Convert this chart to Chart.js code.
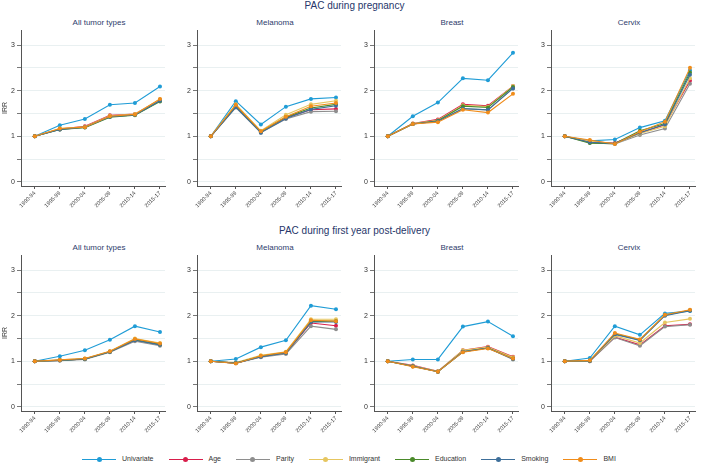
<!DOCTYPE html>
<html>
<head>
<meta charset="utf-8">
<script src="https://cdn.jsdelivr.net/npm/chart.js@4.4.0/dist/chart.umd.min.js"></script>
<style>
  body { margin: 0; background: #fff; font-family: "Liberation Sans", Arial, sans-serif; }
  #wrap { position: relative; width: 709px; height: 465px; overflow: hidden; background: #fff; }
  canvas { position: absolute; }
  .row-title { position: absolute; left: 0; width: 709px; text-align: center; font-size: 10px; line-height: 12px; color: #26366a; }
  .sub-title { position: absolute; width: 140px; margin-left: -70px; text-align: center; font-size: 8px; line-height: 10px; color: #2e3c6c; }
  #legend { position: absolute; left: 82px; top: 454px; height: 10px; display: flex; align-items: center; gap: 15px; font-size: 7px; line-height: 10px; color: #333; }
  .item { display: flex; align-items: center; gap: 6px; }
  .key { position: relative; width: 34px; height: 1px; }
  .key i { position: absolute; left: 14.5px; top: -2px; width: 5px; height: 5px; border-radius: 50%; }
</style>
</head>
<body>
<div id="wrap"></div>
<script>
// Data
const periods = ['1990-94', '1995-99', '2000-04', '2005-09', '2010-14', '2015-17'];
const seriesNames = ['Univariate', 'Age', 'Parity', 'Immigrant', 'Education', 'Smoking', 'BMI'];
const seriesColors = ['#1f9cd6', '#d81e4b', '#8e8e8e', '#e6c660', '#4a8a2a', '#3e6f9a', '#f08c1a'];
const tumorTypes = ['All tumor types', 'Melanoma', 'Breast', 'Cervix'];
const rowTitles = ['PAC during pregnancy', 'PAC during first year post-delivery'];

// rows: Univariate, Age, Parity, Immigrant, Education, Smoking, BMI
const pregAll = [
  [1, 1.24, 1.38, 1.69, 1.73, 2.09],
  [1, 1.16, 1.22, 1.46, 1.49, 1.80],
  [1, 1.15, 1.20, 1.43, 1.47, 1.78],
  [1, 1.17, 1.21, 1.45, 1.49, 1.81],
  [1, 1.15, 1.19, 1.42, 1.46, 1.76],
  [1, 1.15, 1.20, 1.43, 1.47, 1.78],
  [1, 1.17, 1.20, 1.44, 1.48, 1.82]
];
const pregMelanoma = [
  [1, 1.77, 1.26, 1.65, 1.82, 1.85],
  [1, 1.65, 1.10, 1.41, 1.58, 1.60],
  [1, 1.63, 1.08, 1.38, 1.54, 1.55],
  [1, 1.70, 1.12, 1.47, 1.70, 1.78],
  [1, 1.66, 1.10, 1.42, 1.62, 1.70],
  [1, 1.64, 1.08, 1.39, 1.59, 1.67],
  [1, 1.69, 1.11, 1.43, 1.66, 1.73]
];
const pregBreast = [
  [1, 1.44, 1.74, 2.27, 2.23, 2.83],
  [1, 1.28, 1.37, 1.70, 1.67, 2.10],
  [1, 1.27, 1.33, 1.60, 1.58, 2.05],
  [1, 1.28, 1.35, 1.68, 1.65, 2.10],
  [1, 1.27, 1.34, 1.66, 1.63, 2.08],
  [1, 1.27, 1.33, 1.61, 1.58, 2.05],
  [1, 1.27, 1.31, 1.58, 1.52, 1.93]
];
const pregCervix = [
  [1, 0.90, 0.93, 1.19, 1.34, 2.45],
  [1, 0.88, 0.85, 1.07, 1.25, 2.22],
  [1, 0.86, 0.83, 1.03, 1.17, 2.15],
  [1, 0.89, 0.84, 1.06, 1.22, 2.27],
  [1, 0.85, 0.84, 1.12, 1.28, 2.40],
  [1, 0.87, 0.84, 1.08, 1.26, 2.35],
  [1, 0.92, 0.83, 1.10, 1.32, 2.50]
];
const postAll = [
  [1, 1.11, 1.24, 1.47, 1.77, 1.64],
  [1, 1.02, 1.05, 1.21, 1.46, 1.37],
  [1, 1.01, 1.04, 1.20, 1.44, 1.34],
  [1, 1.03, 1.06, 1.22, 1.50, 1.40],
  [1, 1.02, 1.05, 1.21, 1.47, 1.37],
  [1, 1.02, 1.05, 1.21, 1.46, 1.36],
  [1, 1.03, 1.06, 1.22, 1.49, 1.39]
];
const postMelanoma = [
  [1, 1.05, 1.31, 1.46, 2.22, 2.14],
  [1, 0.96, 1.10, 1.18, 1.84, 1.78],
  [1, 0.96, 1.09, 1.16, 1.77, 1.70],
  [1, 0.97, 1.13, 1.21, 1.92, 1.92],
  [1, 0.96, 1.11, 1.19, 1.87, 1.88],
  [1, 0.96, 1.10, 1.18, 1.86, 1.86],
  [1, 0.95, 1.12, 1.20, 1.90, 1.88]
];
const postBreast = [
  [1, 1.04, 1.04, 1.76, 1.87, 1.55],
  [1, 0.91, 0.78, 1.24, 1.32, 1.10],
  [1, 0.89, 0.77, 1.21, 1.29, 1.04],
  [1, 0.90, 0.78, 1.24, 1.31, 1.09],
  [1, 0.89, 0.77, 1.21, 1.29, 1.06],
  [1, 0.89, 0.77, 1.21, 1.29, 1.05],
  [1, 0.88, 0.77, 1.20, 1.28, 1.06]
];
const postCervix = [
  [1, 1.07, 1.77, 1.58, 2.05, 2.10],
  [1, 1.00, 1.53, 1.36, 1.78, 1.81],
  [1, 1.00, 1.52, 1.34, 1.76, 1.80],
  [1, 1.01, 1.56, 1.40, 1.85, 1.93],
  [1, 1.01, 1.60, 1.47, 2.01, 2.12],
  [1, 1.01, 1.59, 1.46, 2.00, 2.11],
  [1, 1.02, 1.62, 1.48, 2.02, 2.13]
];
const yTicks = [0, 0.5, 1, 1.5, 2, 2.5, 3];

const panels = [
  [pregAll, pregMelanoma, pregBreast, pregCervix],
  [postAll, postMelanoma, postBreast, postCervix]
];

// layout
const wrap = document.getElementById('wrap');
const colLeft = [0, 176, 353, 530];
const CW = 167, CH = 205;

function addDiv(cls, text, left, top) {
  const d = document.createElement('div');
  d.className = cls;
  d.textContent = text;
  if (left !== null) d.style.left = left + 'px';
  d.style.top = top + 'px';
  wrap.appendChild(d);
}

function drawPanel(rows, left, top, showYTitle) {
  const canvas = document.createElement('canvas');
  canvas.width = CW;
  canvas.height = CH;
  canvas.style.left = left + 'px';
  canvas.style.top = top + 'px';
  wrap.appendChild(canvas);

  const datasets = rows.map((vals, i) => ({
    label: seriesNames[i],
    data: vals.map((v, k) => ({ x: k, y: v })),
    borderColor: seriesColors[i],
    backgroundColor: seriesColors[i],
    borderWidth: 1.1,
    pointRadius: 2,
    pointBorderWidth: 0,
    pointHoverRadius: 2,
    order: rows.length - i
  }));

  new Chart(canvas, {
    type: 'line',
    data: { datasets: datasets },
    options: {
      responsive: false,
      animation: false,
      events: [],
      layout: { padding: { top: 15, left: 0, right: 0, bottom: 0 } },
      plugins: { legend: { display: false }, title: { display: false }, tooltip: { enabled: false } },
      scales: {
        x: {
          type: 'linear',
          min: -0.55,
          max: 5.2,
          afterBuildTicks: s => { s.ticks = periods.map((p, k) => ({ value: k })); },
          afterFit: s => { s.height = 34; s.paddingLeft = 0; s.paddingRight = 0; },
          ticks: {
            autoSkip: false,
            minRotation: 45,
            maxRotation: 45,
            padding: 1,
            color: '#333',
            font: { family: 'Liberation Sans', size: 5.5 },
            callback: v => periods[v]
          },
          grid: { drawOnChartArea: false, drawTicks: true, tickLength: 3, tickColor: '#555' },
          border: { color: '#555', width: 1 }
        },
        y: {
          type: 'linear',
          min: -0.09,
          max: 3.33,
          afterBuildTicks: s => { s.ticks = yTicks.map(v => ({ value: v })); },
          afterFit: s => { s.width = 21; s.paddingTop = 0; s.paddingBottom = 0; },
          ticks: {
            padding: 2,
            color: '#333',
            font: { family: 'Liberation Sans', size: 7 },
            callback: v => Number.isInteger(v) ? v : ''
          },
          grid: { color: '#e3ecee', lineWidth: 0.8, drawTicks: true, tickLength: 4, tickColor: '#555' },
          border: { color: '#555', width: 1 },
          title: {
            display: showYTitle,
            text: 'IRR',
            color: '#333',
            font: { family: 'Liberation Sans', size: 7 },
            padding: { top: 1, bottom: 0 }
          }
        }
      }
    }
  });
}

panels.forEach((row, r) => {
  const top = 15 + r * 225;
  addDiv('row-title', rowTitles[r], null, r * 225);
  row.forEach((rows, c) => {
    addDiv('sub-title', tumorTypes[c], colLeft[c] + 99, 18 + r * 225);
    drawPanel(rows, colLeft[c], top, c === 0);
  });
});

// legend
const legend = document.createElement('div');
legend.id = 'legend';
seriesNames.forEach((name, i) => {
  const item = document.createElement('div');
  item.className = 'item';
  const key = document.createElement('span');
  key.className = 'key';
  key.style.background = seriesColors[i];
  const dot = document.createElement('i');
  dot.style.background = seriesColors[i];
  key.appendChild(dot);
  const txt = document.createElement('span');
  txt.textContent = name;
  item.appendChild(key);
  item.appendChild(txt);
  legend.appendChild(item);
});
wrap.appendChild(legend);
</script>
</body>
</html>
